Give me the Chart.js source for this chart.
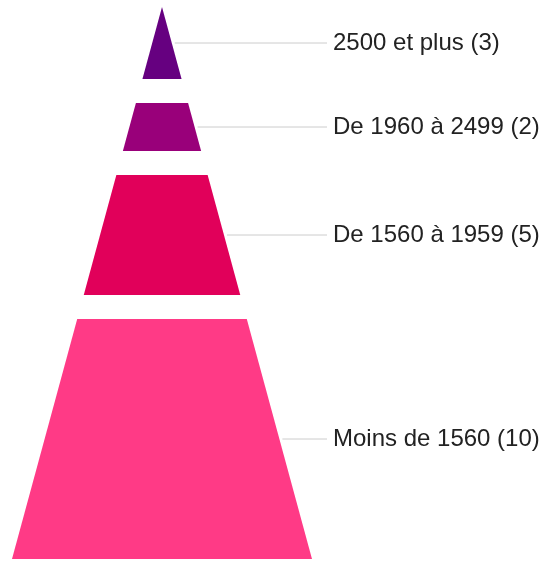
<!DOCTYPE html>
<html>
<head>
<meta charset="utf-8">
<script src="https://cdn.jsdelivr.net/npm/chart.js@4.4.0/dist/chart.umd.min.js"></script>
<style>
html, body { margin: 0; padding: 0; background: #fff; }
#wrap { width: 548px; height: 561px; position: relative; }
</style>
</head>
<body>
<div id="wrap"><canvas id="pyramid"></canvas></div>
<script>
// levels, listed from the top of the pyramid down
var labels = ["2500 et plus", "De 1960 à 2499", "De 1560 à 1959", "Moins de 1560"];
var counts = [3, 2, 5, 10];
var colors = ["#660080", "#99007a", "#e1005a", "#ff3a86"];

var gap = 1;          // space between slices, in count units
var baseHalf = 150;   // half width of the base, in x units
var labelX = 171;     // left edge of the labels, in x units

var total = counts.reduce(function(a, b) { return a + b; }, 0) + gap * (counts.length - 1);
function half(y) { return baseHalf * y / total; }

var datasets = [];
var tags = [];
var y = 0;
counts.forEach(function(c, i) {
    var top = y, bot = y + c;
    datasets.push({
        data: [
            {x: -half(top), y: top}, {x: half(top), y: top},
            {x: half(bot), y: bot}, {x: -half(bot), y: bot},
            {x: -half(top), y: top}
        ],
        showLine: true,
        fill: 'shape',
        backgroundColor: colors[i],
        borderColor: colors[i],
        borderWidth: 0,
        pointRadius: 0,
        tension: 0
    });
    var mid = (top + bot) / 2;
    // leader line from the slice edge to the label
    datasets.push({
        data: [{x: half(mid) + 3, y: mid}, {x: labelX - 6, y: mid}],
        showLine: true,
        fill: false,
        borderColor: "#cccccc",
        borderWidth: 1,
        pointRadius: 0
    });
    tags.push({y: mid, text: labels[i] + " (" + c + ")"});
    y = bot + gap;
});

var labelPlugin = {
    id: 'pyramidLabels',
    afterDatasetsDraw: function(chart) {
        var ctx = chart.ctx;
        var xs = chart.scales.x, ys = chart.scales.y;
        ctx.save();
        ctx.font = "24px 'Liberation Sans', Arial, sans-serif";
        ctx.fillStyle = "#222222";
        ctx.textAlign = "left";
        ctx.textBaseline = "middle";
        tags.forEach(function(t) {
            ctx.fillText(t.text, xs.getPixelForValue(labelX), ys.getPixelForValue(t.y));
        });
        ctx.restore();
    }
};

new Chart(document.getElementById("pyramid"), {
    type: 'scatter',
    data: { datasets: datasets },
    options: {
        responsive: true,
        maintainAspectRatio: false,
        animation: false,
        layout: { padding: { left: 12, right: 0, top: 7, bottom: 2 } },
        plugins: {
            legend: { display: false },
            tooltip: { enabled: false }
        },
        scales: {
            x: { type: 'linear', min: -baseHalf, max: 386, display: false },
            y: { type: 'linear', min: 0, max: total, reverse: true, display: false }
        }
    },
    plugins: [labelPlugin]
});
</script>
</body>
</html>
